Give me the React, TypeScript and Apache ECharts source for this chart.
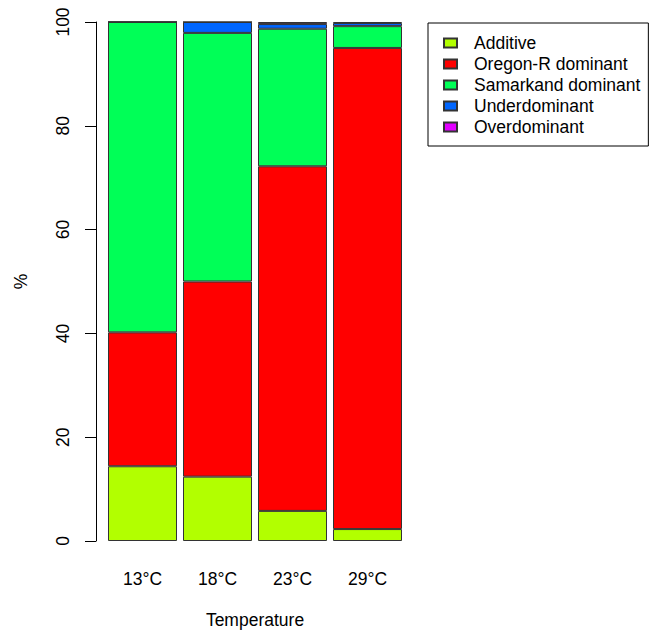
import React, { useEffect, useRef } from "react";
import * as echarts from "echarts";

// Share of inheritance modes (%) at each rearing temperature
const temperatures = ["13°C", "18°C", "23°C", "29°C"];
const additive = [14.4, 12.4, 5.8, 2.3];
const oregonRDominant = [25.8, 37.6, 66.4, 92.7];
const samarkandDominant = [59.8, 47.9, 26.5, 4.2];
const underdominant = [0, 2.1, 0.9, 0.6];
const overdominant = [0, 0, 0.4, 0.2];
const yTicks = [0, 20, 40, 60, 80, 100];

const seriesNames = [
  "Additive",
  "Oregon-R dominant",
  "Samarkand dominant",
  "Underdominant",
  "Overdominant",
];
const seriesColors = ["#B2FF00", "#FF0000", "#00FF57", "#0066FF", "#E100FF"];
const seriesValues = [additive, oregonRDominant, samarkandDominant, underdominant, overdominant];

const FONT = "'Liberation Sans', Arial, Helvetica, sans-serif";

export default function App() {
  const ref = useRef<HTMLDivElement>(null);

  useEffect(() => {
    if (!ref.current) return;
    const chart = echarts.init(ref.current, null, { renderer: "svg" });

    chart.setOption({
      animation: false,
      backgroundColor: "#ffffff",
      textStyle: { fontFamily: FONT, color: "#000" },
      grid: { left: 105, top: 22, width: 300, height: 522 },
      legend: {
        orient: "vertical",
        left: 428,
        top: 23,
        padding: [11, 8, 10, 15],
        itemGap: 3,
        itemWidth: 13,
        itemHeight: 9,
        borderColor: "#000",
        borderWidth: 1,
        borderRadius: 0,
        icon: "rect",
        data: seriesNames,
        textStyle: {
          fontFamily: FONT,
          fontSize: 17.5,
          lineHeight: 17,
          color: "#000",
          padding: [0, 0, 0, 12],
        },
      },
      xAxis: {
        type: "category",
        data: temperatures,
        name: "Temperature",
        nameLocation: "middle",
        nameGap: 70,
        nameTextStyle: { fontFamily: FONT, fontSize: 17.5, color: "#000" },
        axisLine: { show: false },
        axisTick: { show: false },
        axisLabel: { margin: 29, fontFamily: FONT, fontSize: 17.5, color: "#000" },
      },
      yAxis: {
        type: "value",
        min: yTicks[0],
        max: yTicks[yTicks.length - 1],
        interval: 20,
        offset: 9,
        name: "%",
        nameLocation: "middle",
        nameGap: 66,
        nameRotate: 90,
        nameTextStyle: { fontFamily: FONT, fontSize: 17.5, color: "#000" },
        axisLine: { show: true, lineStyle: { color: "#000", width: 1 } },
        axisTick: { show: true, length: 11, lineStyle: { color: "#000", width: 1 } },
        axisLabel: {
          rotate: 90,
          margin: 24,
          fontFamily: FONT,
          fontSize: 17.5,
          color: "#000",
        },
        splitLine: { show: false },
      },
      series: seriesNames.map((name, i) => ({
        name,
        type: "bar",
        stack: "total",
        barWidth: 69,
        data: seriesValues[i],
        itemStyle: {
          color: seriesColors[i],
          borderColor: "#333",
          borderWidth: 1,
        },
      })),
    });

    return () => chart.dispose();
  }, []);

  return (
    <div
      ref={ref}
      style={{ position: "absolute", left: 0, top: 0, width: 650, height: 634 }}
    />
  );
}
